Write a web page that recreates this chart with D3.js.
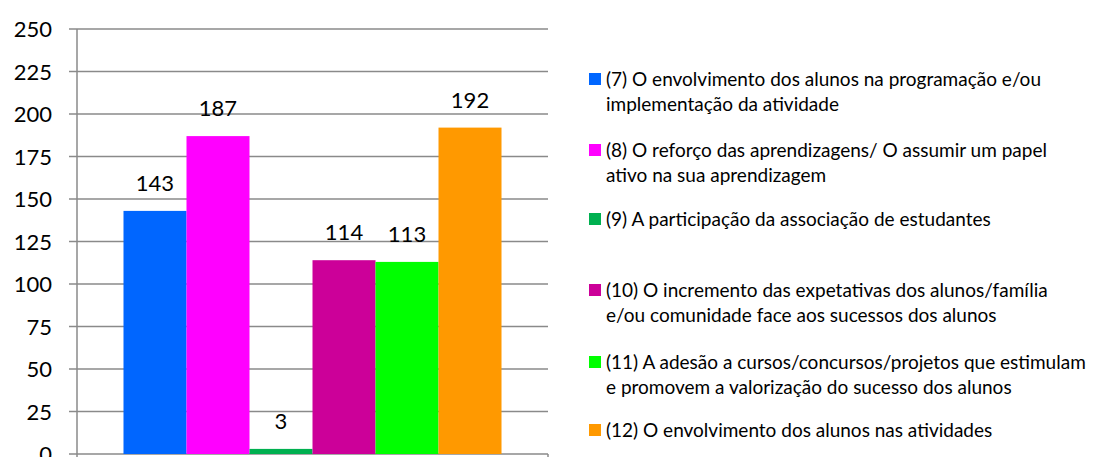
<!DOCTYPE html>
<html>
<head>
<meta charset="utf-8">
<script src="https://cdn.jsdelivr.net/npm/d3@7"></script>
<style>
  body { margin: 0; background: #fff; }
  svg { display: block; font-family: Lato, "Open Sans", sans-serif; }
</style>
</head>
<body>
<svg id="chart" width="1114" height="457"></svg>
<script>
var labels = [
  "(7) O envolvimento dos alunos na programação e/ou\nimplementação da atividade",
  "(8) O reforço das aprendizagens/ O assumir um papel\nativo na sua aprendizagem",
  "(9) A participação da associação de estudantes",
  "(10) O incremento das expetativas dos alunos/família\ne/ou comunidade face aos sucessos dos alunos",
  "(11) A adesão a cursos/concursos/projetos que estimulam\ne promovem a valorização do sucesso dos alunos",
  "(12) O envolvimento dos alunos nas atividades"
];
var values = [143, 187, 3, 114, 113, 192];
var colors = ["#0066FF", "#FF00FF", "#00B050", "#CC0099", "#00FF00", "#FF9900"];
var yTicks = [0, 25, 50, 75, 100, 125, 150, 175, 200, 225, 250];

(function() {
  var svg = d3.select("#chart");
  var plotLeft = 77, plotRight = 548, plotTop = 29, plotBottom = 454;
  var grid = "#8a8a8a";

  var y = d3.scaleLinear().domain([0, 250]).range([plotBottom, plotTop]);
  var x = d3.scaleBand().domain(d3.range(values.length))
      .range([plotLeft, plotRight]).paddingInner(0).paddingOuter(0.738);

  // gridlines
  svg.append("g").selectAll("line").data(yTicks).enter().append("line")
      .attr("x1", plotLeft - 8).attr("x2", plotRight)
      .attr("y1", function(d) { return y(d); })
      .attr("y2", function(d) { return y(d); })
      .style("stroke", grid).style("stroke-width", 1.5);

  // axis lines
  svg.append("line")
      .attr("x1", plotLeft).attr("x2", plotLeft).attr("y1", plotTop).attr("y2", plotBottom + 6)
      .style("stroke", grid).style("stroke-width", 1.5);
  svg.append("line")
      .attr("x1", plotRight).attr("x2", plotRight).attr("y1", plotBottom).attr("y2", plotBottom + 6)
      .style("stroke", grid).style("stroke-width", 1.5);

  // y tick labels
  svg.append("g").selectAll("text").data(yTicks).enter().append("text")
      .attr("x", 52)
      .attr("y", function(d) { return y(d) + 8; })
      .attr("text-anchor", "end")
      .style("font-size", "22px")
      .style("fill", "#000")
      .text(function(d) { return d; });

  // bars
  svg.append("g").selectAll("rect").data(values).enter().append("rect")
      .attr("x", function(d, i) { return x(i); })
      .attr("width", x.bandwidth())
      .attr("y", function(d) { return y(d); })
      .attr("height", function(d) { return plotBottom - y(d); })
      .style("fill", function(d, i) { return colors[i]; });

  // value labels
  svg.append("g").selectAll("text").data(values).enter().append("text")
      .attr("x", function(d, i) { return x(i) + x.bandwidth() / 2; })
      .attr("y", function(d) { return y(d) - 20; })
      .attr("text-anchor", "middle")
      .style("font-size", "22px")
      .style("fill", "#000")
      .text(function(d) { return d; });

  // legend
  var legendRows = [79, 150, 219, 290, 362, 430];
  var lg = svg.append("g").selectAll("g").data(labels).enter().append("g")
      .attr("transform", function(d, i) { return "translate(589," + legendRows[i] + ")"; });
  lg.append("rect")
      .attr("x", 0).attr("y", -6).attr("width", 12).attr("height", 12)
      .style("fill", function(d, i) { return colors[i]; });
  lg.append("text")
      .style("font-size", "19px")
      .style("fill", "#000")
      .each(function(d) {
        var t = d3.select(this);
        d.split("\n").forEach(function(line, k) {
          t.append("tspan").attr("x", 17).attr("y", 7 + k * 25).text(line);
        });
      });
})();
</script>
</body>
</html>
